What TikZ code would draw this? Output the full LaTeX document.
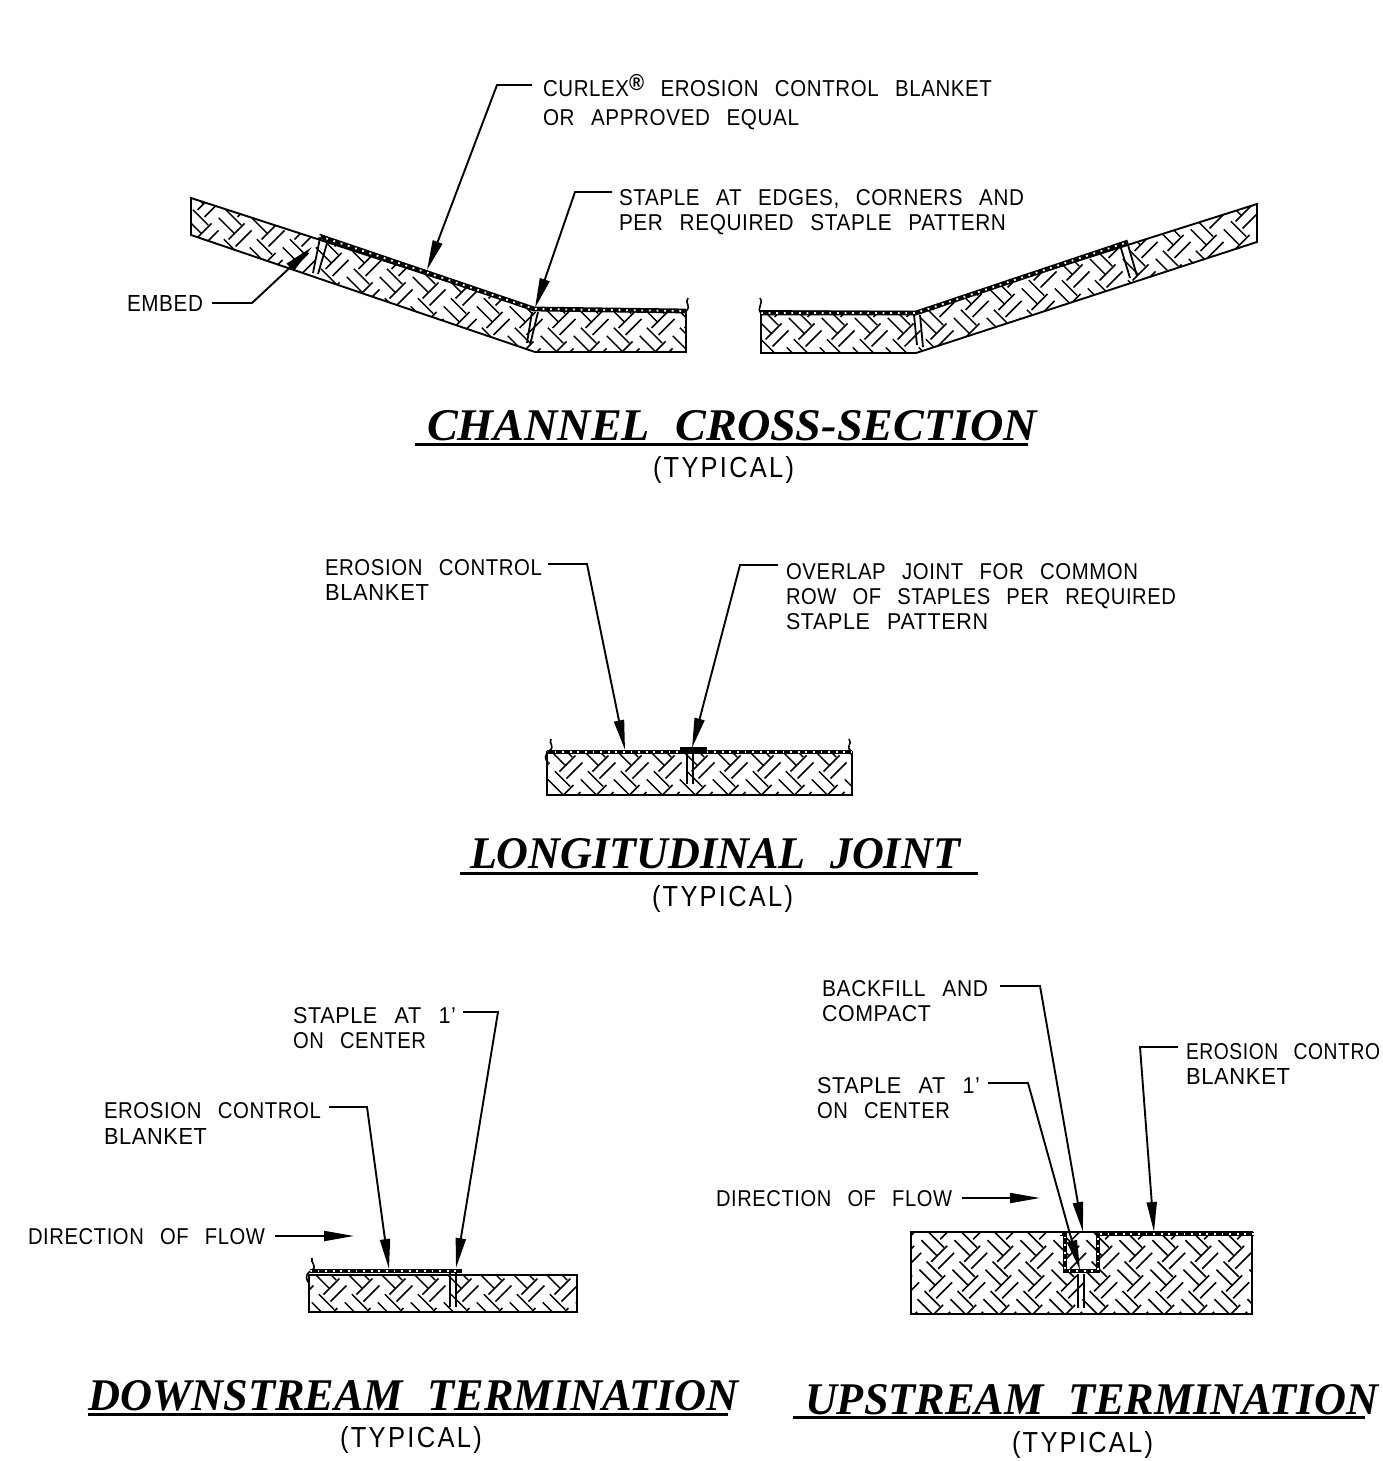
\documentclass[tikz,border=0pt]{standalone}
\usepackage{fontspec}
\usepackage{graphicx}
\usetikzlibrary{arrows.meta}
\setmainfont[WordSpace=2.6,LetterSpace=3]{Liberation Sans}
\newfontfamily\typfont[LetterSpace=9]{Liberation Sans}
\newfontfamily\titlefont{Liberation Serif}
\newdimen\pxu \pxu=.5pt
\tikzset{
  txt/.style={inner sep=0pt,outer sep=0pt,anchor=base west},
  outline/.style={line width=.95pt,line join=miter},
  leader/.style={line width=.95pt,-{Triangle[length=15pt,width=5pt]}},
  rule/.style={line width=1.5pt},
  blk/.style={line width=2.4pt,line join=miter},
  blkdots/.style={white,line width=.9pt,dash pattern=on .9pt off 2.9pt},
  curl/.style={line width=.8pt},
  stapleleg/.style={line width=.9pt},
  hatchline/.style={line width=.75pt}
}
\newcommand\lbl[7]{\node[txt] (#1) at (#2,#3) {\resizebox{#4\pxu}{#5\pxu}{#6#7}};}
\newcommand\lab[5]{\lbl{#1}{#2}{#3}{#4}{16}{\rmfamily}{#5}}
\newcommand\typ[4]{\lbl{#1}{#2}{#3}{#4}{21}{\typfont}{(TYPICAL)}}
\newcommand\ttl[5]{\lbl{#1}{#2}{#3}{#4}{30}{\titlefont\bfseries\itshape}{#5}}
\newcommand\gapw{\hspace{.55em}}
\newcommand\blanket[1]{\draw[blk] #1; \draw[blkdots] #1;}
% basket-weave hatch: clip path #1, lattice origin #2,#3, rows #4, columns #5
\newcommand\hatchreg[5]{%
  \begin{scope}
    \clip #1;
    \foreach \n in {0,...,#4}{
      \foreach \m in {-1,...,#5}{
        \pgfmathsetmacro\xx{#2+33*\m-2*\n}
        \pgfmathsetmacro\yy{#3+29.5*\n}
        \begin{scope}[shift={(\xx,\yy)}]
          \draw[hatchline] (-4.2,-11.8)--(11.2,3.6);
          \draw[hatchline] (-11.2,-3.6)--(4.2,11.8);
          \draw[hatchline] (12-11.5,-16+4.5)--(12+4.5,-16-11.5);
          \draw[hatchline] (12-4.5,-16+11.5)--(12+11.5,-16-4.5);
        \end{scope}
      }
    }
  \end{scope}}
\begin{document}
\begin{tikzpicture}[x=.5pt,y=-.5pt]
\useasboundingbox (0,0) rectangle (1382,1461);
\fill[white] (0,0) rectangle (1382,1461);

% ---- hatching and outlines
\hatchreg{(191,198)--(191,235)--(535,352)--(686,352)--(686,311)--(533,309)--cycle}{168}{162.5}{7}{17}
\draw[outline] (191,198)--(191,235)--(535,352)--(686,352)--(686,311)--(533,309)--cycle;
\hatchreg{(761,311)--(761,353)--(916,353)--(1257,242)--(1257,204)--(916,312)--cycle}{744}{174}{7}{17}
\draw[outline] (761,311)--(761,353)--(916,353)--(1257,242)--(1257,204)--(916,312)--cycle;
\hatchreg{(547,752) rectangle (852,795)}{530}{724}{3}{11}
\draw[outline] (547,752) rectangle (852,795);
\hatchreg{(309,1275) rectangle (577,1312)}{294}{1247}{3}{10}
\draw[outline] (309,1275) rectangle (577,1312);
\hatchreg{(911,1232) rectangle (1252,1314)}{901.7}{1214.3}{4}{12}
\draw[outline] (911,1232) rectangle (1252,1314);

% ---- blankets
\blanket{(319,236)--(534,309)--(686,311)}
\blanket{(761,313)--(916,313)--(1128,242)}
\blanket{(547,752)--(852,752)}
\blanket{(310,1271)--(462,1271)}
\blanket{(1060,1234)--(1065,1234)--(1065,1271)--(1098,1271)--(1098,1234)--(1254,1234)}
\fill (680,747) rectangle (707,754);
\draw[curl] (686,311) .. controls (692,306) and (684,303) .. (688,298);
\draw[curl] (761,313) .. controls (756,308) and (764,304) .. (760,298);
\draw[curl] (549,751) .. controls (556,746) and (548,744) .. (551,739);
\draw[curl] (549,751) .. controls (544,755) and (545,760) .. (548,762);
\draw[curl] (851,751) .. controls (845,746) and (853,744) .. (849,739);
\draw[curl] (312,1270) .. controls (318,1266) and (310,1263) .. (312,1258);
\draw[curl] (310,1271) .. controls (305,1275) and (306,1280) .. (309,1283);

% ---- staples
\draw[stapleleg] (320,238)--(313,273) (328,240)--(318,274);
\draw[stapleleg] (532,312)--(527,343) (538,312)--(530,345);
\draw[stapleleg] (914,315)--(917,345) (920,315)--(923,347);
\draw[stapleleg] (1120,245)--(1130,278) (1128,245)--(1137,276);
\draw[stapleleg] (687,752)--(687,784) (693,752)--(693,784);
\draw[stapleleg] (450,1272)--(450,1307) (456,1272)--(456,1307);
\draw[stapleleg] (1078,1274)--(1078,1308) (1084,1274)--(1084,1308);

% ---- labels
\lbl{curlex}{543}{97}{449}{23}{\rmfamily}{CURLEX\raisebox{.3em}{\bfseries ®} EROSION CONTROL BLANKET}
\lab{approved}{543}{126}{256}{OR APPROVED EQUAL}
\lab{stapedge}{619}{205}{405}{STAPLE AT EDGES, CORNERS AND}
\lab{stappat}{619}{230}{387}{PER REQUIRED STAPLE PATTERN}
\lab{embed}{127}{311}{76}{EMBED}
\ttl{chtitle}{427}{440}{610}{CHANNEL\gapw CROSS-SECTION}
\typ{chtyp}{653}{477}{141}
\lab{ljero}{325}{575}{217}{EROSION CONTROL}
\lab{ljbl}{325}{600}{104}{BLANKET}
\lab{ljo}{786}{579}{352}{OVERLAP JOINT FOR COMMON}
\lab{ljr}{786}{604}{390}{ROW OF STAPLES PER REQUIRED}
\lab{ljs}{786}{629}{202}{STAPLE PATTERN}
\ttl{ljtitle}{470}{868}{490}{LONGITUDINAL\gapw JOINT}
\typ{ljtyp}{652}{906}{141}
\lab{dss}{293}{1023}{163}{STAPLE AT 1'}
\lab{dsc}{293}{1048}{133}{ON CENTER}
\lab{dse}{104}{1118}{217}{EROSION CONTROL}
\lab{dsb}{104}{1144}{103}{BLANKET}
\lab{dsd}{28}{1244}{237}{DIRECTION OF FLOW}
\ttl{dstitle}{88}{1410}{650}{DOWNSTREAM\gapw TERMINATION}
\typ{dstyp}{340}{1447}{142}
\lab{usb}{822}{996}{166}{BACKFILL AND}
\lab{usc}{822}{1021}{109}{COMPACT}
\lab{use}{1186}{1059}{194}{EROSION CONTRO}
\lab{usbl}{1186}{1084}{104}{BLANKET}
\lab{uss}{817}{1093}{163}{STAPLE AT 1'}
\lab{uso}{817}{1118}{133}{ON CENTER}
\lab{usd}{716}{1206}{236}{DIRECTION OF FLOW}
\ttl{ustitle}{805}{1414}{573}{UPSTREAM\gapw TERMINATION}
\typ{ustyp}{1012}{1452}{141}

% ---- title rules
\draw[rule] (415,444)--(1028,444);
\draw[rule] (460,873)--(978,873);
\draw[rule] (88,1414)--(728,1414);
\draw[rule] (793,1417)--(1365,1417);

% ---- leaders
\coordinate (c1) at (532,85); \coordinate (c1e) at (497,85); \coordinate (c1t) at (427,270);
\coordinate (c2) at (612,192); \coordinate (c2e) at (575,192); \coordinate (c2t) at (535,308);
\coordinate (c3) at (212,303); \coordinate (c3e) at (252,303); \coordinate (c3t) at (312,247);
\coordinate (c4) at (548,564); \coordinate (c4e) at (587,564); \coordinate (c4t) at (625,750);
\coordinate (c5) at (778,565); \coordinate (c5e) at (740,565); \coordinate (c5t) at (692,748);
\coordinate (c6) at (463,1012); \coordinate (c6e) at (498,1012); \coordinate (c6t) at (456,1268);
\coordinate (c7) at (329,1107); \coordinate (c7e) at (367,1107); \coordinate (c7t) at (389,1269);
\coordinate (c8) at (275,1236); \coordinate (c8t) at (354,1236);
\coordinate (c9) at (1000,986); \coordinate (c9e) at (1040,986); \coordinate (c9t) at (1083,1232);
\coordinate (c10) at (1178,1047); \coordinate (c10e) at (1140,1047); \coordinate (c10t) at (1154,1232);
\coordinate (c11) at (988,1083); \coordinate (c11e) at (1028,1083); \coordinate (c11t) at (1080,1270);
\coordinate (c12) at (962,1198); \coordinate (c12t) at (1040,1198);
\foreach \s/\e/\t in {c1/c1e/c1t,c2/c2e/c2t,c3/c3e/c3t,c4/c4e/c4t,c5/c5e/c5t,c6/c6e/c6t,c7/c7e/c7t,c9/c9e/c9t,c10/c10e/c10t,c11/c11e/c11t}
  \draw[leader] (\s)--(\e)--(\t);
\draw[leader] (c8)--(c8t);
\draw[leader] (c12)--(c12t);
\end{tikzpicture}
\end{document}
